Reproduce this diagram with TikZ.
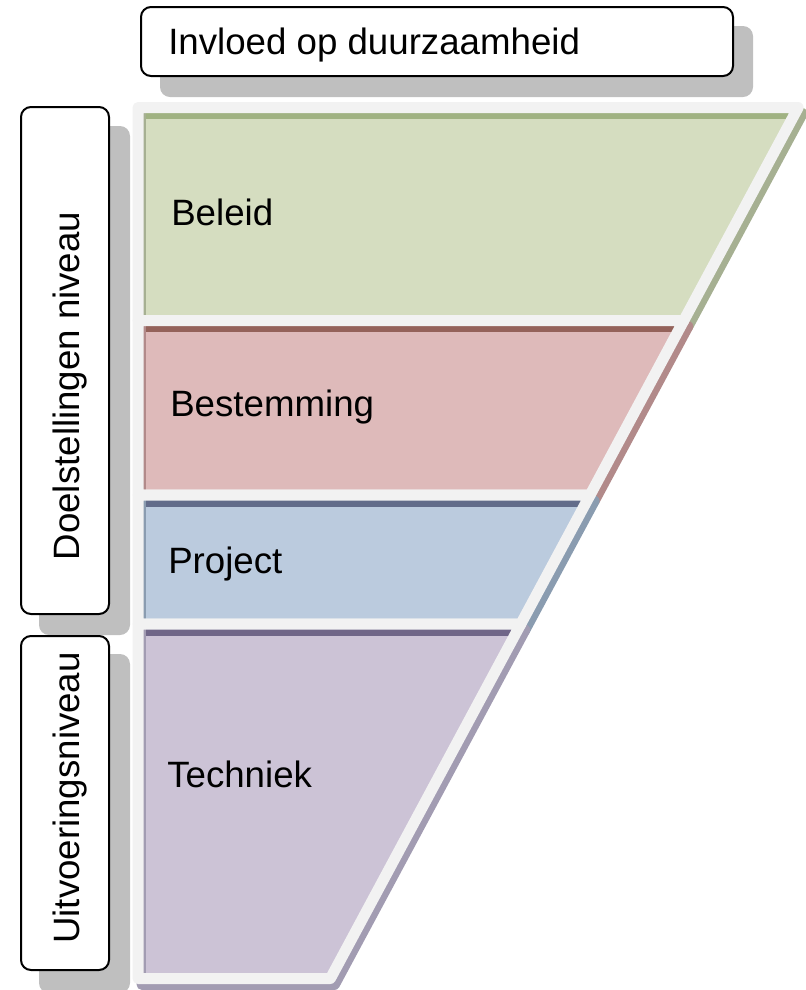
\documentclass[tikz,border=0pt]{standalone}
\usepackage{fontspec}
\setmainfont{Liberation Sans}

\definecolor{bandgray}{RGB}{242,242,242}
\definecolor{boxshadow}{RGB}{191,191,191}
\definecolor{beleidfill}{RGB}{213,221,192}
\definecolor{beleidline}{RGB}{160,178,130}
\definecolor{beleidshadow}{RGB}{166,176,146}
\definecolor{bestfill}{RGB}{222,186,186}
\definecolor{bestline}{RGB}{148,98,90}
\definecolor{bestshadow}{RGB}{178,138,138}
\definecolor{projfill}{RGB}{187,203,222}
\definecolor{projline}{RGB}{98,108,138}
\definecolor{projshadow}{RGB}{138,156,176}
\definecolor{techfill}{RGB}{204,195,214}
\definecolor{techline}{RGB}{112,102,136}
\definecolor{techshadow}{RGB}{162,156,178}

\begin{document}
\begin{tikzpicture}[x=0.75pt, y=-0.75pt,
    lbl/.style={font=\fontsize{27.5}{32}\selectfont, anchor=base west, inner sep=0pt},
    vlbl/.style={font=\fontsize{27.5}{32}\selectfont, rotate=90, inner sep=0pt},
    tagbox/.style={draw=black, line width=1.5pt, rounded corners=7.5pt, fill=white},
    tagshadow/.style={fill=boxshadow, rounded corners=7.5pt},
    band/.style={draw=bandgray, line width=8.25pt, line join=round},
    segshadow/.style={line width=8.25pt, line join=round}]
    \useasboundingbox (0,0) rectangle (806,990);

    % top label
    \fill[tagshadow] (160,26) rectangle (753,97);
    \draw[tagbox] (141,7) rectangle (733,76);
    \node[lbl] (invloed) at (168,54) {Invloed op duurzaamheid};

    % left labels
    \fill[tagshadow] (39,126) rectangle (130,635);
    \draw[tagbox] (21,107) rectangle (109,614);
    \node[vlbl] (doelen) at (70,386) {Doelstellingen niveau};

    \fill[tagshadow] (39,654) rectangle (130,993);
    \draw[tagbox] (21,636) rectangle (109,970);
    \node[vlbl] (uitvoering) at (70,798) {Uitvoeringsniveau};

    % shadows of the funnel
    \begin{scope}[shift={(4,6)}]
        \filldraw[segshadow, draw=beleidshadow, fill=beleidshadow] (138,107.5) -- (798.2,107.5) -- (683.8,320.5) -- (138,320.5) -- cycle;
        \filldraw[segshadow, draw=bestshadow, fill=bestshadow] (138,320.5) -- (683.8,320.5) -- (590.1,495) -- (138,495) -- cycle;
        \filldraw[segshadow, draw=projshadow, fill=projshadow] (138,495) -- (590.1,495) -- (520.8,624) -- (138,624) -- cycle;
        \filldraw[segshadow, draw=techshadow, fill=techshadow] (138,624) -- (520.8,624) -- (330.4,978.5) -- (138,978.5) -- cycle;
    \end{scope}

    % Beleid
    \fill[beleidfill] (138,107.5) -- (798.2,107.5) -- (683.8,320.5) -- (138,320.5) -- cycle;
    \begin{scope}
        \clip (138,107.5) -- (798.2,107.5) -- (683.8,320.5) -- (138,320.5) -- cycle;
        \draw[beleidline, line width=17.25pt] (138,107.5) -- (798.2,107.5);
        \draw[beleidshadow, line width=11.25pt] (138,107.5) -- (138,320.5);
    \end{scope}
    \draw[band] (138,107.5) -- (798.2,107.5) -- (683.8,320.5) -- (138,320.5) -- cycle;
    \node[lbl] (beleid) at (171,225) {Beleid};

    % Bestemming
    \fill[bestfill] (138,320.5) -- (683.8,320.5) -- (590.1,495) -- (138,495) -- cycle;
    \begin{scope}
        \clip (138,320.5) -- (683.8,320.5) -- (590.1,495) -- (138,495) -- cycle;
        \draw[bestline, line width=17.25pt] (138,320.5) -- (683.8,320.5);
        \draw[bestshadow, line width=11.25pt] (138,320.5) -- (138,495);
    \end{scope}
    \draw[band] (138,320.5) -- (683.8,320.5) -- (590.1,495) -- (138,495) -- cycle;
    \node[lbl] (bestemming) at (170,416) {Bestemming};

    % Project
    \fill[projfill] (138,495) -- (590.1,495) -- (520.8,624) -- (138,624) -- cycle;
    \begin{scope}
        \clip (138,495) -- (590.1,495) -- (520.8,624) -- (138,624) -- cycle;
        \draw[projline, line width=17.25pt] (138,495) -- (590.1,495);
        \draw[projshadow, line width=11.25pt] (138,495) -- (138,624);
    \end{scope}
    \draw[band] (138,495) -- (590.1,495) -- (520.8,624) -- (138,624) -- cycle;
    \node[lbl] (project) at (168,573) {Project};

    % Techniek
    \fill[techfill] (138,624) -- (520.8,624) -- (330.4,978.5) -- (138,978.5) -- cycle;
    \begin{scope}
        \clip (138,624) -- (520.8,624) -- (330.4,978.5) -- (138,978.5) -- cycle;
        \draw[techline, line width=17.25pt] (138,624) -- (520.8,624);
        \draw[techshadow, line width=11.25pt] (138,624) -- (138,978.5);
    \end{scope}
    \draw[band] (138,624) -- (520.8,624) -- (330.4,978.5) -- (138,978.5) -- cycle;
    \node[lbl] (techniek) at (167,787) {Techniek};
\end{tikzpicture}
\end{document}
